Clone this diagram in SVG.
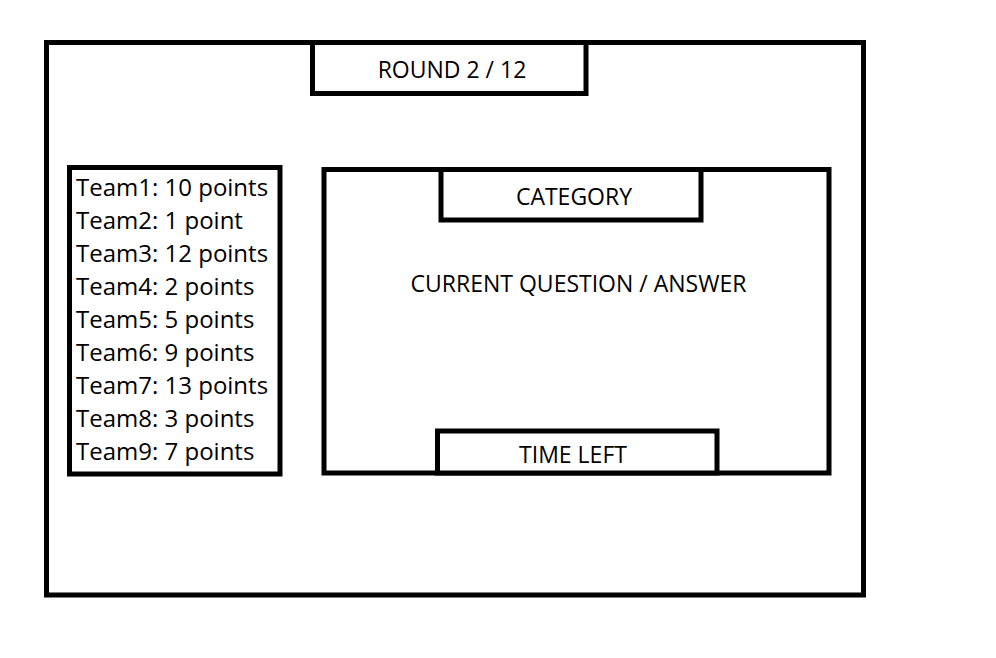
<svg xmlns="http://www.w3.org/2000/svg" width="996" height="658" viewBox="0 0 996 658">
  <style>
    .box { fill: #ffffff; stroke: #000000; stroke-width: 5; }
    .lbl { font-family: "Open Sans", "Noto Sans", sans-serif; font-size: 23px; fill: #000000; }
    .team { font-size: 24px; }
    .mid { text-anchor: middle; }
  </style>
  <rect width="996" height="658" fill="#ffffff"/>

  <!-- screen frame -->
  <g id="screen">
    <rect class="box" x="46.5" y="42.5" width="817" height="552.5"/>
  </g>

  <!-- round indicator -->
  <g id="round">
    <rect class="box" x="312.5" y="42.5" width="273.5" height="51"/>
    <text class="lbl mid" x="452" y="78">ROUND 2 / 12</text>
  </g>

  <!-- scoreboard -->
  <g id="scores">
    <rect class="box" x="69.5" y="167.5" width="210.5" height="306.5"/>
    <text class="lbl team" x="76" y="195.5">Team1: 10 points</text>
    <text class="lbl team" x="76" y="228.5">Team2: 1 point</text>
    <text class="lbl team" x="76" y="261.5">Team3: 12 points</text>
    <text class="lbl team" x="76" y="294.5">Team4: 2 points</text>
    <text class="lbl team" x="76" y="327.5">Team5: 5 points</text>
    <text class="lbl team" x="76" y="360.5">Team6: 9 points</text>
    <text class="lbl team" x="76" y="393.5">Team7: 13 points</text>
    <text class="lbl team" x="76" y="426.5">Team8: 3 points</text>
    <text class="lbl team" x="76" y="459.5">Team9: 7 points</text>
  </g>

  <!-- question panel -->
  <g id="question">
    <rect class="box" x="324" y="169.5" width="505" height="303.5"/>
    <text class="lbl mid" x="578.5" y="292">CURRENT QUESTION / ANSWER</text>
  </g>

  <!-- category tab -->
  <g id="category">
    <rect class="box" x="441" y="169.5" width="260" height="50.5"/>
    <text class="lbl mid" x="574" y="205">CATEGORY</text>
  </g>

  <!-- timer tab -->
  <g id="timer">
    <rect class="box" x="437.5" y="431" width="279.5" height="42"/>
    <text class="lbl mid" x="573" y="463">TIME LEFT</text>
  </g>
</svg>
